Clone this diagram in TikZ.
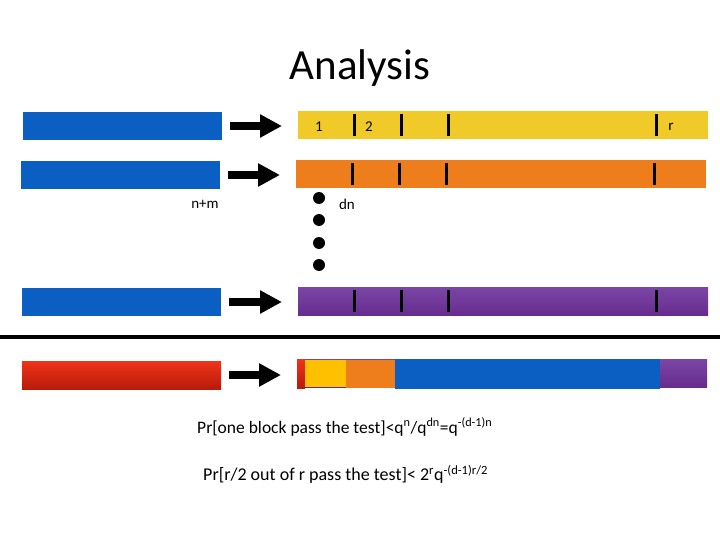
\documentclass[tikz,border=0pt]{standalone}
\usepackage{fontspec}
\setmainfont{Carlito}
\usetikzlibrary{positioning,arrows.meta}
\definecolor{blockblue}{HTML}{0B5EC2}
\definecolor{yellowbar}{HTML}{F0CA28}
\definecolor{orangebar}{HTML}{EE7D1B}
\definecolor{purtop}{HTML}{7A46A6}
\definecolor{purbot}{HTML}{662C8E}
\definecolor{redtop}{HTML}{F03418}
\definecolor{redbot}{HTML}{B81A0A}
\definecolor{goldseg}{HTML}{FFC000}

\begin{document}
\begin{tikzpicture}[x=1pt, y=-1pt,
  bar/.style={anchor=north west, inner sep=0pt, outer sep=0pt, minimum height=28pt},
  src/.style={bar, fill=blockblue, minimum width=199pt},
  dst/.style={bar, minimum width=410pt},
  fat/.style={line width=8pt, -{Triangle[length=22pt, width=22pt]}, shorten <=8pt, shorten >=16pt},
  cut/.style={line width=3pt},
  lbl/.style={font=\fontsize{15}{15}\selectfont, inner sep=0pt},
  formula/.style={inner sep=0pt, anchor=west, font=\fontsize{17.5}{18}\selectfont},
  dot/.style={circle, fill=black, inner sep=0pt, minimum size=12pt}]
\useasboundingbox (0,0) rectangle (720,540);
\node[font=\fontsize{43}{43}\selectfont] (title) at (360,68) {Analysis};
% left blocks
\node[src] (in1) at (23,112) {};
\node[src] (in2) at (21,161) {};
\node[src] (in3) at (22,288) {};
\node[src, top color=redtop, bottom color=redbot] (in4) at (22,361) {};
\node[lbl] (nm) at (205,204) {n+m};
% right blocks
\node[dst, fill=yellowbar] (out1) at (298,111) {};
\node[dst, fill=orangebar] (out2) at (296,160) {};
\node[dst, top color=purtop, bottom color=purbot] (out3) at (298,287) {};
\node[dst, top color=purtop, bottom color=purbot] (out4) at (297,359) {};
\fill[top color=redtop, bottom color=redbot] (297,359) rectangle (305,388);
\fill[goldseg] (305,360) rectangle (346,387);
\fill[orangebar] (346,360) rectangle (395,388);
\fill[blockblue] (395,359) rectangle (660,389);
\foreach \b in {out1,out2,out3}{
  \foreach \o in {56,103,150,358}{\draw[cut] ([xshift=\o pt, yshift=-3pt]\b.north west) -- ([xshift=\o pt, yshift=3pt]\b.south west);}
}
\node[lbl] (one) at (319,127) {1};
\node[lbl] (two) at (369,127) {2};
\node[lbl] (r) at (671,127) {r};
\node[lbl] (dn) at (347,204) {dn};
\foreach \y [count=\k] in {198,220,243,265}{\node[dot] (dot\k) at (319,\y) {};}
\foreach \i in {1,...,4}{\draw[fat] (in\i.east) -- (in\i.east -| out\i.west);}
\draw[line width=4pt] (0,337) -- (720,337);
\node[formula] (p1) at (197,427) {Pr[one block pass the test]<q\textsuperscript{n}/q\textsuperscript{dn}=q\textsuperscript{-(d-1)n}};
\node[formula, font=\fontsize{18}{18}\selectfont] (p2) at (203,474) {Pr[r/2 out of r pass the test]< 2\textsuperscript{r}q\textsuperscript{-(d-1)r/2}};
\end{tikzpicture}
\end{document}
